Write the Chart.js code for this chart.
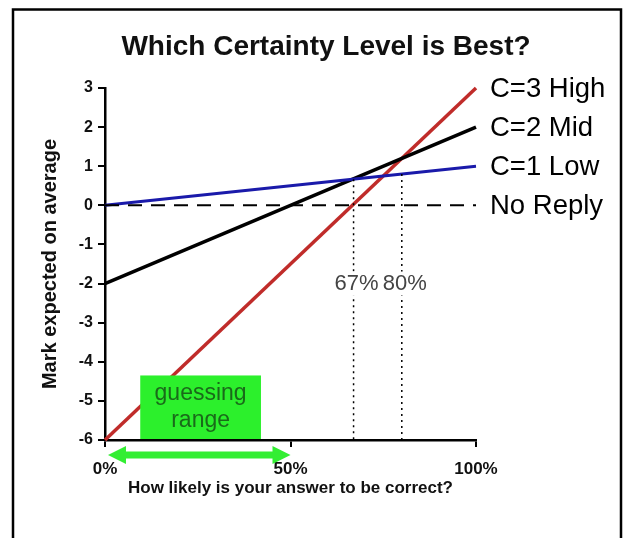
<!DOCTYPE html>
<html>
<head>
<meta charset="utf-8">
<script src="https://cdn.jsdelivr.net/npm/chart.js@4.4.1/dist/chart.umd.min.js"></script>
<style>
  html, body { margin: 0; padding: 0; background: #fff; }
  #wrap { width: 632px; height: 538px; position: relative; }
</style>
</head>
<body>
<div id="wrap"><canvas id="chart" width="632" height="538"></canvas></div>
<script>
// data
const xEnds = [0, 100];                 // % likely correct
const highVals = [-6, 3];               // C=3 High
const midVals = [-2, 2];                // C=2 Mid
const lowVals = [0, 1];                 // C=1 Low
const noReplyVals = [0, 0];             // No Reply
const seriesLabels = ['C=3 High', 'C=2 Mid', 'C=1 Low', 'No Reply'];
const markerX = [67, 80];               // break-even points
const markerTop = [0.67, 0.8];
const markerLabelY = -2;
const guessRange = [0, 50];
const guessBoxX = [9.5, 41.5];
const guessBoxY = [-6, -4.35];
const guessText = ['guessing', 'range'];

const FONT = 'Arial, "Liberation Sans", sans-serif';

function pts(vals) {
  return xEnds.map((x, i) => ({ x, y: vals[i] }));
}

function markerPts(i) {
  return [{ x: markerX[i], y: markerTop[i] }, { x: markerX[i], y: -6 }];
}

const decorPlugin = {
  id: 'decor',
  beforeDraw(chart) {
    const ctx = chart.ctx;
    ctx.save();
    ctx.fillStyle = '#fff';
    ctx.fillRect(0, 0, chart.width, chart.height);
    ctx.restore();
  },
  afterDatasetsDraw(chart) {
    const ctx = chart.ctx;
    const xs = chart.scales.x, ys = chart.scales.y;
    ctx.save();

    // guessing range box
    const bx0 = xs.getPixelForValue(guessBoxX[0]), bx1 = xs.getPixelForValue(guessBoxX[1]);
    const by0 = ys.getPixelForValue(guessBoxY[1]), by1 = ys.getPixelForValue(guessBoxY[0]);
    ctx.fillStyle = '#2cf02c';
    ctx.fillRect(bx0, by0, bx1 - bx0 + 2, by1 - by0 - 1);
    ctx.fillStyle = '#1a6a1a';
    ctx.font = '23px ' + FONT;
    ctx.textAlign = 'center';
    ctx.textBaseline = 'middle';
    const bcx = (bx0 + bx1) / 2 + 1;
    ctx.fillText(guessText[0], bcx, by0 + 18);
    ctx.fillText(guessText[1], bcx, by0 + 45);

    // break-even labels
    ctx.font = '22px ' + FONT;
    markerX.forEach(v => {
      const px = xs.getPixelForValue(v) + 3;
      const py = ys.getPixelForValue(markerLabelY);
      const t = v + '%';
      const w = ctx.measureText(t).width;
      ctx.fillStyle = '#fff';
      ctx.fillRect(px - w / 2 - 1, py - 12, w + 2, 24);
      ctx.fillStyle = '#444';
      ctx.fillText(t, px, py);
    });

    // series names at line ends
    ctx.fillStyle = '#000';
    ctx.font = '27.5px ' + FONT;
    ctx.textAlign = 'left';
    const ends = [highVals[1], midVals[1], lowVals[1], noReplyVals[1]];
    ends.forEach((v, i) => {
      ctx.fillText(seriesLabels[i], xs.right + 14, ys.getPixelForValue(v) + 1);
    });
    ctx.restore();
  },
  afterDraw(chart) {
    const ctx = chart.ctx;
    const xs = chart.scales.x;
    ctx.save();
    // double arrow under the axis
    const ax0 = xs.getPixelForValue(guessRange[0]) + 3;
    const ax1 = xs.getPixelForValue(guessRange[1]);
    const ay = chart.chartArea.bottom + 15;
    ctx.strokeStyle = '#33ee33';
    ctx.fillStyle = '#33ee33';
    ctx.lineWidth = 7;
    ctx.beginPath();
    ctx.moveTo(ax0 + 12, ay);
    ctx.lineTo(ax1 - 12, ay);
    ctx.stroke();
    ctx.beginPath();
    ctx.moveTo(ax0, ay);
    ctx.lineTo(ax0 + 18, ay - 9);
    ctx.lineTo(ax0 + 18, ay + 9);
    ctx.closePath();
    ctx.fill();
    ctx.beginPath();
    ctx.moveTo(ax1, ay);
    ctx.lineTo(ax1 - 18, ay - 9);
    ctx.lineTo(ax1 - 18, ay + 9);
    ctx.closePath();
    ctx.fill();

    // outer frame
    ctx.strokeStyle = '#000';
    ctx.lineWidth = 2.5;
    ctx.strokeRect(13, 9.5, 608, 540);
    ctx.restore();
  }
};

new Chart(document.getElementById('chart'), {
  type: 'line',
  data: {
    datasets: [
      { label: seriesLabels[3], data: pts(noReplyVals), borderColor: '#000', borderWidth: 2, borderDash: [14, 9] },
      { label: 'm67', data: markerPts(0), borderColor: '#000', borderWidth: 1.5, borderDash: [2, 4] },
      { label: 'm80', data: markerPts(1), borderColor: '#000', borderWidth: 1.5, borderDash: [2, 4] },
      { label: seriesLabels[2], data: pts(lowVals), borderColor: '#1a1aaa', borderWidth: 3 },
      { label: seriesLabels[1], data: pts(midVals), borderColor: '#000', borderWidth: 3.5 },
      { label: seriesLabels[0], data: pts(highVals), borderColor: '#c02c2a', borderWidth: 3.5 }
    ]
  },
  options: {
    responsive: false,
    animation: false,
    clip: 6,
    layout: { padding: { left: 20, right: 0, top: 0, bottom: 38 } },
    elements: { point: { radius: 0 }, line: { tension: 0, borderCapStyle: 'butt' } },
    plugins: {
      legend: { display: false },
      tooltip: { enabled: false },
      title: {
        display: true,
        text: 'Which Certainty Level is Best?',
        color: '#111',
        font: { family: FONT, size: 28, weight: 'bold' },
        padding: { top: 30, bottom: 24.4 }
      }
    },
    scales: {
      x: {
        type: 'linear',
        min: 0,
        max: 100,
        ticks: {
          stepSize: 50,
          callback: v => v + '%',
          color: '#111',
          font: { family: FONT, size: 17, weight: 'bold' },
          padding: 12,
          maxRotation: 0
        },
        grid: { drawOnChartArea: false, tickLength: 7, color: '#000', lineWidth: 2 },
        border: { color: '#000', width: 2.5 },
        title: {
          display: true,
          text: 'How likely is your answer to be correct?',
          color: '#111',
          font: { family: FONT, size: 17, weight: 'bold' },
          padding: { top: 0, bottom: 1 }
        },
        afterFit: s => { s.height = 60; }
      },
      y: {
        min: -6,
        max: 3,
        ticks: {
          stepSize: 1,
          color: '#111',
          font: { family: FONT, size: 16, weight: 'bold' },
          padding: 5
        },
        grid: { drawOnChartArea: false, tickLength: 7, color: '#000', lineWidth: 2 },
        border: { color: '#000', width: 2.5 },
        title: {
          display: true,
          text: 'Mark expected on average',
          color: '#111',
          font: { family: FONT, size: 20, weight: 'bold' },
          padding: { top: 18, bottom: 0 }
        },
        afterFit: s => { s.width = 85; }
      },
      side: {
        position: 'right',
        min: -6,
        max: 3,
        ticks: { display: false },
        grid: { display: false },
        border: { display: false },
        afterFit: s => { s.width = 156; }
      }
    }
  },
  plugins: [decorPlugin]
});
</script>
</body>
</html>
